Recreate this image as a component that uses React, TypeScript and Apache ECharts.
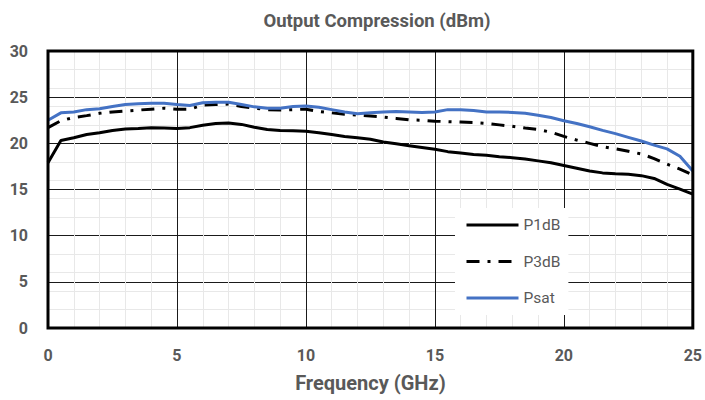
import React, { useEffect, useRef } from "react";
import * as echarts from "echarts";

const freq = [0, 0.5, 1, 1.5, 2, 2.5, 3, 3.5, 4, 4.5, 5, 5.5, 6, 6.5, 7, 7.5, 8, 8.5, 9, 9.5, 10, 10.5, 11, 11.5, 12, 12.5, 13, 13.5, 14, 14.5, 15, 15.5, 16, 16.5, 17, 17.5, 18, 18.5, 19, 19.5, 20, 20.5, 21, 21.5, 22, 22.5, 23, 23.5, 24, 24.5, 25];

const p1dB = [17.9, 20.3, 20.6, 20.95, 21.15, 21.4, 21.55, 21.6, 21.7, 21.65, 21.6, 21.7, 21.95, 22.15, 22.2, 22.05, 21.75, 21.5, 21.4, 21.35, 21.3, 21.15, 20.95, 20.75, 20.6, 20.45, 20.15, 19.95, 19.75, 19.55, 19.35, 19.1, 18.95, 18.8, 18.7, 18.55, 18.45, 18.3, 18.1, 17.9, 17.6, 17.3, 17.0, 16.8, 16.7, 16.65, 16.5, 16.2, 15.55, 15.05, 14.5];

const p3dB = [21.7, 22.45, 22.8, 23.0, 23.25, 23.4, 23.5, 23.6, 23.7, 23.8, 23.7, 23.7, 24.15, 24.2, 24.25, 24.0, 23.8, 23.65, 23.6, 23.65, 23.7, 23.45, 23.3, 23.15, 23.05, 22.95, 22.85, 22.7, 22.55, 22.5, 22.4, 22.35, 22.3, 22.25, 22.15, 22.0, 21.85, 21.65, 21.5, 21.2, 20.75, 20.35, 20.0, 19.65, 19.4, 19.15, 18.85, 18.35, 17.75, 17.2, 16.6];

const psat = [22.5, 23.3, 23.4, 23.65, 23.75, 24.0, 24.2, 24.3, 24.35, 24.35, 24.2, 24.1, 24.4, 24.45, 24.45, 24.2, 23.95, 23.8, 23.8, 24.0, 24.05, 23.9, 23.65, 23.4, 23.2, 23.3, 23.4, 23.45, 23.4, 23.35, 23.4, 23.65, 23.65, 23.55, 23.4, 23.4, 23.35, 23.25, 23.05, 22.8, 22.45, 22.15, 21.8, 21.4, 21.05, 20.65, 20.25, 19.8, 19.4, 18.6, 17.0];

const seriesNames = ["P1dB", "P3dB", "Psat"];

const pair = (ys: number[]) => freq.map((f, i) => [f, ys[i]]);

export default function App() {
  const ref = useRef<HTMLDivElement>(null);
  useEffect(() => {
    if (!ref.current) return;
    const chart = echarts.init(ref.current, undefined, { renderer: "svg" });
    const gray = "#595959";
    chart.setOption({
      animation: false,
      textStyle: { fontFamily: "Roboto" },
      title: {
        text: "Output Compression (dBm)",
        left: 372,
        textAlign: "center",
        top: 6,
        textStyle: { fontSize: 18.5, fontWeight: "bold", color: gray, fontFamily: "Roboto" },
      },
      legend: {
        orient: "vertical",
        left: 455,
        top: 208,
        padding: [9, 8, 9, 10],
        backgroundColor: "#ffffff",
        itemWidth: 52,
        itemHeight: 14,
        itemGap: 20.5,
        itemStyle: { opacity: 0 },
        lineStyle: { width: 3 },
        data: seriesNames,
        textStyle: { fontSize: 15.5, color: gray, fontFamily: "Roboto" },
      },
      grid: {
        left: 48,
        right: 9,
        top: 51,
        bottom: 72,
        show: true,
        borderColor: "#000",
        borderWidth: 3,
        backgroundColor: "transparent",
        z: 5,
      },
      xAxis: {
        type: "value",
        min: 0,
        max: 25,
        interval: 5,
        z: 1,
        name: "Frequency (GHz)",
        nameLocation: "middle",
        nameGap: 45,
        nameTextStyle: { fontSize: 20, fontWeight: "bold", color: gray, fontFamily: "Roboto" },
        axisLine: { show: false },
        axisTick: { show: false },
        axisLabel: { fontSize: 16, fontWeight: "bold", color: gray, margin: 19 },
        splitLine: { show: true, lineStyle: { color: "#1a1a1a", width: 1 } },
        minorTick: { show: false, splitNumber: 5 },
        minorSplitLine: { show: true, lineStyle: { color: "#e8e8e8", width: 1 } },
      },
      yAxis: [
        {
          type: "value",
          min: 0,
          max: 30,
          interval: 5,
          z: 1,
          axisLine: { show: false },
          axisTick: { show: false },
          axisLabel: { fontSize: 16, fontWeight: "bold", color: gray, margin: 20 },
          splitLine: { show: true, lineStyle: { color: "#1a1a1a", width: 1 } },
        },
        {
          type: "value",
          min: 0,
          max: 30,
          interval: 2,
          position: "left",
          z: 0,
          axisLine: { show: false },
          axisTick: { show: false },
          axisLabel: { show: false },
          splitLine: { show: true, lineStyle: { color: "#e8e8e8", width: 1 } },
        },
      ],
      series: [
        {
          name: seriesNames[0],
          type: "line",
          data: pair(p1dB),
          symbol: "none",
          lineStyle: { color: "#000", width: 3 },
          itemStyle: { color: "#000" },
          z: 3,
        },
        {
          name: seriesNames[1],
          type: "line",
          data: pair(p3dB),
          symbol: "none",
          lineStyle: { color: "#000", width: 3, type: [13, 8, 3, 8] },
          itemStyle: { color: "#000" },
          z: 3,
        },
        {
          name: seriesNames[2],
          type: "line",
          data: pair(psat),
          symbol: "none",
          lineStyle: { color: "#4472C4", width: 3 },
          itemStyle: { color: "#4472C4" },
          z: 3,
        },
      ],
    });
    return () => chart.dispose();
  }, []);
  return (
    <div
      ref={ref}
      style={{ position: "fixed", left: 0, top: 0, width: 705, height: 400, background: "#fff" }}
    />
  );
}
